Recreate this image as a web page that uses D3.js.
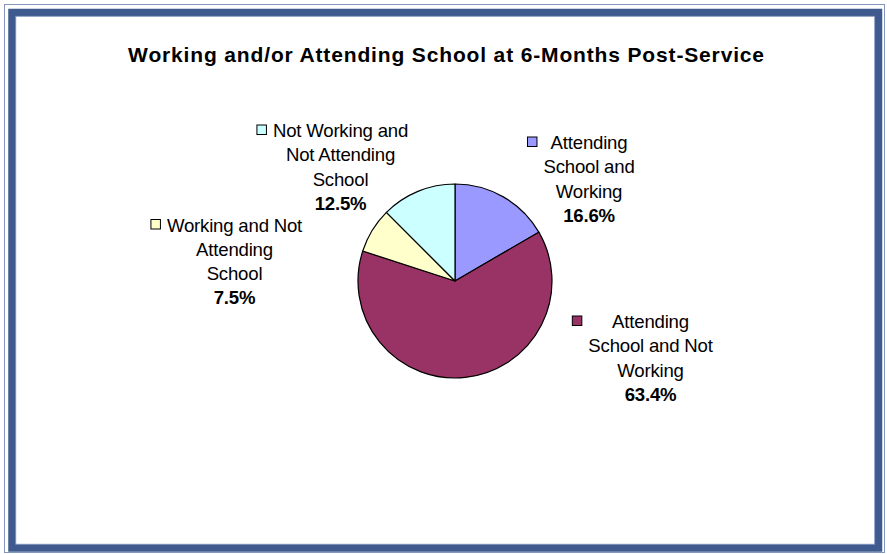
<!DOCTYPE html>
<html>
<head>
<meta charset="utf-8">
<script src="https://cdn.jsdelivr.net/npm/d3@7"></script>
<style>
  body { margin: 0; background: #fff; }
  svg { display: block; font-family: "Liberation Sans", Arial, sans-serif; }
</style>
</head>
<body>
<div id="chart"></div>
<script>
// Données
const title = 'Working and/or Attending School at 6-Months Post-Service'
const categoryLines = [
    ['Attending', 'School and', 'Working'],
    ['Attending', 'School and Not', 'Working'],
    ['Working and Not', 'Attending', 'School'],
    ['Not Working and', 'Not Attending', 'School']
]
const values = [16.6, 63.4, 7.5, 12.5]
const colors = ['#9999ff', '#993366', '#ffffcc', '#ccffff']

// Position des étiquettes (centre du bloc, première ligne) relative au centre du camembert
const labelOffsets = [[134, -132], [195.5, 47], [-220.5, -49.5], [-114.5, -144]]

const width = 887,
    height = 554,
    cx = 455,
    cy = 281,
    radius = 97,
    lineHeight = 24.3

const svg = d3.select('#chart')
    .append('svg')
    .attr('width', width)
    .attr('height', height)

// Cadre
svg.append('rect')
    .attr('x', 4.5).attr('y', 4.5)
    .attr('width', 880).attr('height', 548)
    .attr('fill', 'none')
    .attr('stroke', '#8596bd')
    .attr('stroke-width', 1)

svg.append('rect')
    .attr('x', 12).attr('y', 12.5)
    .attr('width', 866.5).attr('height', 535.5)
    .attr('fill', 'none')
    .attr('stroke', '#3f5a8e')
    .attr('stroke-width', 7.5)

svg.append('rect')
    .attr('x', 15.8).attr('y', 16.3)
    .attr('width', 858.9).attr('height', 527.9)
    .attr('fill', 'none')
    .attr('stroke', '#8194c0')
    .attr('stroke-width', 0.8)

// Titre
svg.append('text')
    .attr('x', 446.5)
    .attr('y', 62)
    .attr('text-anchor', 'middle')
    .style('font-size', '21px')
    .style('font-weight', 'bold')
    .style('letter-spacing', '0.85px')
    .text(title)

// Camembert
const pie = d3.pie().sort(null).value(d => d)
const arc = d3.arc().innerRadius(0).outerRadius(radius)
const arcs = pie(values)

const g = svg.append('g')
    .attr('transform', `translate(${cx}, ${cy})`)

g.selectAll('path')
    .data(arcs)
    .join('path')
    .attr('d', arc)
    .attr('fill', (d, i) => colors[i])
    .attr('stroke', '#000')
    .attr('stroke-width', 1.2)
    .attr('stroke-linejoin', 'round')

// Étiquettes
const pct = d3.format('.1%')

arcs.forEach((d, i) => {
    const [dx, dy] = labelOffsets[i]
    const lab = g.append('g')
        .attr('transform', `translate(${dx}, ${dy})`)

    const lines = categoryLines[i].concat([pct(values[i] / 100)])
    const texts = lab.selectAll('text')
        .data(lines)
        .join('text')
        .attr('x', 0)
        .attr('y', (t, j) => j * lineHeight)
        .attr('text-anchor', 'middle')
        .style('font-size', '18.6px')
        .style('font-weight', (t, j) => j === lines.length - 1 ? 'bold' : 'normal')
        .style('letter-spacing', '-0.2px')
        .text(t => t)

    // Clé de légende à gauche de la ligne la plus large
    const widest = d3.max(texts.nodes(), n => n.getComputedTextLength())
    lab.append('rect')
        .attr('x', -widest / 2 - 16)
        .attr('y', -12)
        .attr('width', 9.5)
        .attr('height', 9.5)
        .attr('fill', colors[i])
        .attr('stroke', '#000')
        .attr('stroke-width', 1)
})
</script>
</body>
</html>
